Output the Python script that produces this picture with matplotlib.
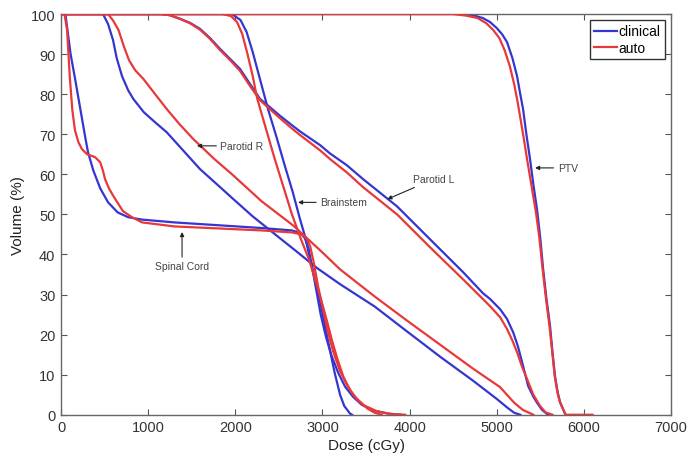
import matplotlib
matplotlib.use('Agg')
import matplotlib.pyplot as plt

# dose-volume histogram points (dose in cGy, volume in %)
spinal_clin_dose = [0, 50, 80, 110, 160, 200, 240, 280, 310, 370, 450, 540, 650, 770, 930, 1300, 1800, 2300, 2650,
                    2750, 2800, 2840, 2880, 2930, 2980, 3040, 3100, 3180, 3260, 3350, 3450, 3600, 3750, 3900]
spinal_clin_vol = [100, 100, 95, 90, 84, 79, 74, 69, 65.5, 61, 56.5, 53, 50.5, 49.3, 48.7, 48, 47.3, 46.6, 46,
                   45.3, 44, 41.5, 37, 31, 25, 19.5, 15, 10.5, 7, 4.5, 2.5, 1, 0.3, 0]
spinal_auto_dose = [0, 40, 70, 100, 130, 160, 200, 240, 300, 390, 450, 480, 505, 550, 600, 711, 815, 930, 1300, 1800,
                    2300, 2650, 2760, 2820, 2860, 2900, 2950, 3000, 3060, 3120, 3200, 3280, 3370, 3480, 3620, 3780, 3950]
spinal_auto_vol = [100, 100, 96, 84.5, 76, 71, 68, 66.3, 65, 64.3, 63, 61, 58.8, 56.5, 54.6, 50.8, 49.3, 48, 47, 46.5,
                   46, 45.5, 45, 44, 42, 38, 32, 27, 21, 16, 11, 7.5, 4.5, 2.3, 0.9, 0.2, 0]

parR_clin_dose = [0, 482, 540, 597, 639, 700, 770, 830, 950, 1079, 1213, 1400, 1595, 1800, 1978, 2200, 2475, 2700,
                  2938, 3201, 3600, 3970, 4349, 4728, 5003, 5120, 5200, 5270]
parR_clin_vol = [100, 100, 97.5, 93.5, 89, 84.5, 81, 78.8, 75.5, 73, 70.5, 66, 61.3, 57.3, 53.8, 49.5, 44.7, 40.8,
                 36.6, 32.6, 27, 20.8, 14.5, 8.5, 3.9, 1.8, 0.5, 0]
parR_auto_dose = [0, 540, 600, 660, 720, 780, 850, 945, 1080, 1213, 1360, 1518, 1750, 1978, 2300, 2666, 3000, 3201,
                  3600, 3970, 4349, 4728, 5038, 5200, 5300, 5420]
parR_auto_vol = [100, 100, 98.3, 96, 92, 88.5, 86, 83.8, 80, 76.3, 72.5, 68.8, 64, 59.7, 53.3, 47.2, 40.5, 36.3,
                 29.5, 23.5, 17.5, 11.5, 6.9, 3, 1.2, 0]

brain_clin_dose = [0, 1960, 2060, 2130, 2200, 2280, 2375, 2470, 2570, 2660, 2740, 2800, 2857, 2910, 2972, 3030, 3087,
                   3140, 3202, 3250, 3316, 3340]
brain_clin_vol = [100, 100, 98.5, 95.5, 90.5, 84, 76.3, 69.5, 62, 55.5, 49, 44.5, 39, 34, 28.5, 22, 16, 10.5, 5, 2.2,
                  0.3, 0]
brain_auto_dose = [0, 1850, 1950, 2020, 2080, 2140, 2200, 2250, 2350, 2450, 2550, 2650, 2750, 2850, 2940, 3000, 3050,
                   3110, 3170, 3240, 3320, 3420, 3520, 3600, 3680]
brain_auto_vol = [100, 100, 99.5, 98, 95, 90, 84.5, 79, 71.5, 64, 57, 50, 44, 38.5, 32, 27.5, 23.5, 18.5, 14, 9.5, 6,
                  3.3, 1.5, 0.5, 0]

parL_clin_dose = [0, 1150, 1250, 1366, 1480, 1595, 1710, 1825, 1940, 2054, 2170, 2284, 2400, 2513, 2630, 2743, 2972,
                  3087, 3278, 3466, 3856, 4234, 4613, 4843, 4923, 5040, 5118, 5190, 5244, 5302, 5360, 5420, 5462,
                  5520, 5577, 5600]
parL_clin_vol = [100, 100, 99.7, 98.8, 97.8, 96.3, 94, 91.3, 88.8, 86.3, 82.5, 78.8, 76.7, 74.6, 72.6, 70.7, 67.3,
                 65.2, 62.3, 58.8, 52, 43.8, 35.6, 30.3, 28.9, 26.3, 23.9, 20.5, 17, 12.2, 7.2, 4.5, 3, 1.2, 0.2, 0]
parL_auto_dose = [0, 1150, 1250, 1366, 1480, 1595, 1710, 1825, 1940, 2054, 2170, 2284, 2400, 2513, 2630, 2743, 2972,
                  3087, 3278, 3466, 3856, 4234, 4613, 4923, 5040, 5118, 5180, 5233, 5290, 5348, 5420, 5497, 5560, 5640]
parL_auto_vol = [100, 100, 99.7, 98.8, 97.7, 96.1, 93.8, 91, 88.5, 85.8, 82, 78.5, 76.2, 74, 71.8, 69.8, 66, 63.8,
                 60.5, 56.8, 50, 41.8, 33.8, 27.1, 24.3, 21.4, 18.5, 15.6, 12, 8.9, 5, 2.2, 0.6, 0]

ptv_clin_dose = [0, 4600, 4728, 4840, 4923, 5000, 5060, 5118, 5180, 5233, 5270, 5302, 5340, 5382, 5420, 5462, 5500,
                 5531, 5570, 5612, 5640, 5669, 5700, 5726, 5761, 5790]
ptv_clin_vol = [100, 100, 99.7, 99, 98, 96.5, 95, 93, 89, 84.5, 80, 76.3, 70, 63.8, 57.5, 51.3, 44, 36.6, 29, 22.1,
                15.5, 9.6, 5.5, 3.2, 1.4, 0]
ptv_auto_dose = [0, 4500, 4650, 4780, 4880, 4960, 5030, 5090, 5150, 5200, 5240, 5275, 5310, 5350, 5400, 5450, 5490,
                 5525, 5565, 5605, 5638, 5665, 5697, 5724, 5760, 5790, 6100]
ptv_auto_vol = [100, 100, 99.6, 99, 97.7, 96, 94, 91, 87, 82.5, 78, 73.5, 69, 63.5, 57, 50.5, 44, 36.6, 29, 22.1,
                15.5, 9.6, 5.5, 3.2, 1.4, 0, 0]

series_names = ['clinical', 'auto']
x_ticks = [0, 1000, 2000, 3000, 4000, 5000, 6000, 7000]
y_ticks = [0, 10, 20, 30, 40, 50, 60, 70, 80, 90, 100]

# structure labels: (text, arrow head, text anchor)
labels = [
    ('Parotid R', (1560, 67.1), (1830, 67.1)),
    ('Brainstem', (2720, 53.0), (2975, 53.0)),
    ('Parotid L', (3745, 53.8), (4040, 58.8)),
    ('PTV', (5440, 61.6), (5700, 61.6)),
    ('Spinal Cord', (1389, 45.6), (1389, 38.3)),
]

BLUE = '#3535d0'
RED = '#e8383a'


def main() -> None:
    plt.rcParams['font.family'] = ['Liberation Sans', 'DejaVu Sans']
    fig = plt.figure(figsize=(6.91, 4.64), dpi=100)
    ax = fig.add_axes([0.0883, 0.104, 0.8828, 0.8636])

    clin = [(spinal_clin_dose, spinal_clin_vol), (parR_clin_dose, parR_clin_vol), (brain_clin_dose, brain_clin_vol),
            (parL_clin_dose, parL_clin_vol), (ptv_clin_dose, ptv_clin_vol)]
    auto = [(spinal_auto_dose, spinal_auto_vol), (parR_auto_dose, parR_auto_vol), (brain_auto_dose, brain_auto_vol),
            (parL_auto_dose, parL_auto_vol), (ptv_auto_dose, ptv_auto_vol)]

    # clinical first, auto drawn over it (top edge reads red in the original)
    for i, (d, v) in enumerate(clin):
        ax.plot(d, v, color=BLUE, lw=1.6, label=series_names[0] if i == 0 else None, zorder=2,
                solid_joinstyle='round')
    for i, (d, v) in enumerate(auto):
        ax.plot(d, v, color=RED, lw=1.6, label=series_names[1] if i == 0 else None, zorder=3,
                solid_joinstyle='round')

    for text, head, anchor in labels:
        if text == 'Spinal Cord':
            ha, va = 'center', 'top'
        else:
            ha, va = 'left', 'center'
        ax.annotate(text, xy=head, xytext=anchor, ha=ha, va=va, fontsize=7.5, color='#444444',
                    arrowprops=dict(arrowstyle='-|>', color='#222222', lw=0.8, mutation_scale=6,
                                    shrinkA=1, shrinkB=0))

    ax.set_xlim(0, 7000)
    ax.set_ylim(0, 100)
    ax.set_xticks(x_ticks)
    ax.set_yticks(y_ticks)
    ax.tick_params(direction='in', top=True, right=True, length=4, width=0.8, colors='#555555',
                   labelcolor='#333333', labelsize=10.5, pad=4)
    for s in ax.spines.values():
        s.set_color('#666666')
        s.set_linewidth(1.0)
    ax.set_xlabel('Dose (cGy)', fontsize=11, color='#222222', labelpad=3)
    ax.set_ylabel('Volume (%)', fontsize=11, color='#222222', labelpad=4)

    leg = ax.legend(loc='upper right', fancybox=False, edgecolor='#333333', framealpha=1, fontsize=10,
                    handlelength=1.6, handletextpad=0.15, borderpad=0.3, labelspacing=0.15, borderaxespad=0.45)
    leg.get_frame().set_linewidth(1.0)
    leg.set_zorder(5)

    fig.savefig('out.png', dpi=100)


if '__main__' == __name__:
    main()
